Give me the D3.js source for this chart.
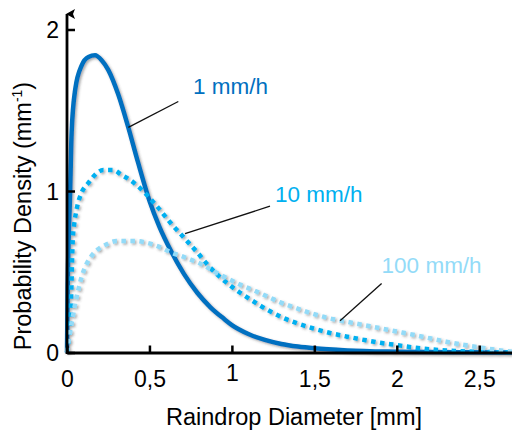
<!DOCTYPE html>
<html>
<head>
<meta charset="utf-8">
<script src="https://cdn.jsdelivr.net/npm/d3@7"></script>
<style>
  body { margin: 0; background: #fff; }
  svg { display: block; font-family: "Liberation Sans", Arial, sans-serif; }
</style>
</head>
<body>
<svg id="chart" width="512" height="431"></svg>
<script>
// tick values and labels (comma as decimal separator, as in the original)
const xTicks = [0, 0.5, 1, 1.5, 2, 2.5];
const xTickLabels = ['0', '0,5', '1', '1,5', '2', '2,5'];
const yTicks = [0, 1, 2];
const yTickLabels = ['0', '1', '2'];

const seriesNames = ['1 mm/h', '10 mm/h', '100 mm/h'];

// [diameter mm, probability density mm^-1]
const rate1 = [
  [0, 0], [0.004, 0.4], [0.01, 0.7], [0.018, 0.96], [0.028, 1.36], [0.05, 1.63],
  [0.09, 1.78], [0.13, 1.83], [0.17, 1.84], [0.21, 1.81], [0.25, 1.75], [0.31, 1.6],
  [0.37, 1.4], [0.43, 1.18], [0.5, 0.94], [0.56, 0.78], [0.63, 0.63], [0.71, 0.485],
  [0.79, 0.37], [0.87, 0.28], [0.95, 0.21], [1.0, 0.17], [1.1, 0.115], [1.2, 0.078],
  [1.3, 0.053], [1.4, 0.037], [1.5, 0.026], [1.7, 0.013], [2.0, 0.005], [2.4, 0.001],
  [2.7, 0]
];
const rate10 = [
  [0, 0], [0.014, 0.12], [0.022, 0.26], [0.027, 0.41], [0.031, 0.58], [0.035, 0.7],
  [0.042, 0.78], [0.059, 0.89], [0.089, 0.99], [0.13, 1.05], [0.17, 1.1], [0.22, 1.13],
  [0.28, 1.13], [0.33, 1.1], [0.38, 1.07], [0.43, 1.03], [0.48, 0.98], [0.55, 0.9],
  [0.63, 0.8], [0.71, 0.71], [0.79, 0.62], [0.86, 0.535], [0.93, 0.465], [0.99, 0.415],
  [1.05, 0.37], [1.11, 0.33], [1.18, 0.285], [1.25, 0.245], [1.31, 0.215], [1.39, 0.183],
  [1.49, 0.15], [1.59, 0.122], [1.7, 0.098], [1.8, 0.078], [1.9, 0.06], [2.0, 0.046],
  [2.1, 0.031], [2.2, 0.02], [2.3, 0.012], [2.4, 0.007], [2.5, 0.004], [2.7, 0.001]
];
const rate100 = [
  [0, 0], [0.018, 0.12], [0.035, 0.22], [0.049, 0.3], [0.069, 0.39], [0.089, 0.47],
  [0.115, 0.54], [0.15, 0.6], [0.19, 0.64], [0.24, 0.67], [0.3, 0.69], [0.36, 0.69],
  [0.42, 0.69], [0.48, 0.68], [0.53, 0.665], [0.58, 0.645], [0.63, 0.62], [0.7, 0.595],
  [0.75, 0.575], [0.81, 0.55], [0.87, 0.515], [0.93, 0.48], [0.99, 0.45], [1.05, 0.42],
  [1.11, 0.395], [1.17, 0.368], [1.23, 0.34], [1.29, 0.312], [1.39, 0.275], [1.49, 0.24],
  [1.59, 0.212], [1.7, 0.19], [1.8, 0.17], [1.9, 0.15], [2.0, 0.13], [2.1, 0.11],
  [2.2, 0.088], [2.3, 0.067], [2.4, 0.048], [2.5, 0.032], [2.6, 0.017], [2.7, 0.005]
];

const svg = d3.select('#chart');

const x = d3.scaleLinear().domain([0, 2.7]).range([67, 512.2]);
const y = d3.scaleLinear().domain([0, 2]).range([352.5, 29.5]);

// soft shadow under the curves
const defs = svg.append('defs');
defs.append('filter')
    .attr('id', 'shadow')
    .attr('x', '-10%').attr('y', '-10%')
    .attr('width', '120%').attr('height', '120%')
  .append('feDropShadow')
    .attr('dx', 1.5).attr('dy', 1.5)
    .attr('stdDeviation', 1)
    .attr('flood-color', '#444')
    .attr('flood-opacity', 0.45);

defs.append('marker')
    .attr('id', 'arrow')
    .attr('viewBox', '0 0 10 10')
    .attr('refX', 5).attr('refY', 1)
    .attr('markerWidth', 10).attr('markerHeight', 10)
    .attr('markerUnits', 'userSpaceOnUse')
    .attr('orient', 'auto-start-reverse')
  .append('path')
    .attr('d', 'M0,9 L5,0 L10,9 L5,7 Z')
    .attr('fill', '#000');

// series: data, colour, dash
const series = [
  {name: seriesNames[0], values: rate1, color: '#0070C0', dash: null},
  {name: seriesNames[1], values: rate10, color: '#00B0F0', dash: '4.5 4.5'},
  {name: seriesNames[2], values: rate100, color: '#93DBF8', dash: '4.5 4.5'}
];

const line = d3.line()
    .x(d => x(d[0]))
    .y(d => y(d[1]))
    .curve(d3.curveMonotoneX);

svg.append('g')
    .attr('filter', 'url(#shadow)')
    .selectAll('path')
    .data(series)
    .enter().append('path')
    .attr('d', d => line(d.values))
    .attr('fill', 'none')
    .attr('stroke', d => d.color)
    .attr('stroke-width', 4.5)
    .attr('stroke-dasharray', d => d.dash);

// axes
const xAxis = svg.append('g')
    .attr('transform', `translate(0,${y(0)})`)
    .call(d3.axisBottom(x)
        .tickValues(xTicks)
        .tickFormat((d, i) => xTickLabels[i])
        .tickSize(-7)
        .tickSizeOuter(0)
        .tickPadding(18));

xAxis.select('.domain').attr('stroke-width', 2.8);
xAxis.selectAll('.tick line').attr('stroke-width', 2.5);
xAxis.selectAll('.tick text')
    .attr('font-size', 23)
    .attr('font-family', null)
    .attr('fill', '#000')
    .attr('dy', d => d === 1 ? '0.45em' : '0.71em');

const yAxis = svg.append('g')
    .attr('transform', `translate(${x(0)},0)`)
    .call(d3.axisLeft(y)
        .tickValues(yTicks)
        .tickFormat((d, i) => yTickLabels[i])
        .tickSize(-8)
        .tickSizeOuter(0)
        .tickPadding(8));

yAxis.select('.domain').remove();
yAxis.selectAll('.tick line').attr('stroke-width', 2.5);
yAxis.selectAll('.tick text')
    .attr('font-size', 23)
    .attr('font-family', null)
    .attr('fill', '#000')
    .attr('dy', '0.36em');

svg.append('line')
    .attr('x1', x(0)).attr('x2', x(0))
    .attr('y1', y(0) + 1.4).attr('y2', 14)
    .attr('stroke', '#000')
    .attr('stroke-width', 2.8)
    .attr('marker-end', 'url(#arrow)');

// axis titles
svg.append('text')
    .attr('x', 294)
    .attr('y', 425)
    .attr('text-anchor', 'middle')
    .attr('font-size', 23.5)
    .text('Raindrop Diameter [mm]');

const yTitle = svg.append('text')
    .attr('transform', 'translate(31,216) rotate(-90)')
    .attr('text-anchor', 'middle')
    .attr('font-size', 23.5);
yTitle.append('tspan').text('Probability Density (mm');
yTitle.append('tspan').attr('font-size', 14).attr('dy', -9).text('-1');
yTitle.append('tspan').attr('dy', 9).text(')');

// curve labels with leader lines
const annotations = [
  {from: [0.372, 1.394], to: [0.675, 1.554], text: [0.764, 1.6]},
  {from: [0.716, 0.736], to: [1.231, 0.906], text: [1.261, 0.931]},
  {from: [1.656, 0.196], to: [1.908, 0.427], text: [1.908, 0.491]}
];

const labels = svg.append('g');
annotations.forEach((a, i) => {
  labels.append('line')
      .attr('x1', x(a.from[0])).attr('y1', y(a.from[1]))
      .attr('x2', x(a.to[0])).attr('y2', y(a.to[1]))
      .attr('stroke', '#111')
      .attr('stroke-width', 1.3);
  labels.append('text')
      .attr('x', x(a.text[0]))
      .attr('y', y(a.text[1]))
      .attr('font-size', 22.5)
      .attr('fill', series[i].color)
      .text(series[i].name);
});
</script>
</body>
</html>
